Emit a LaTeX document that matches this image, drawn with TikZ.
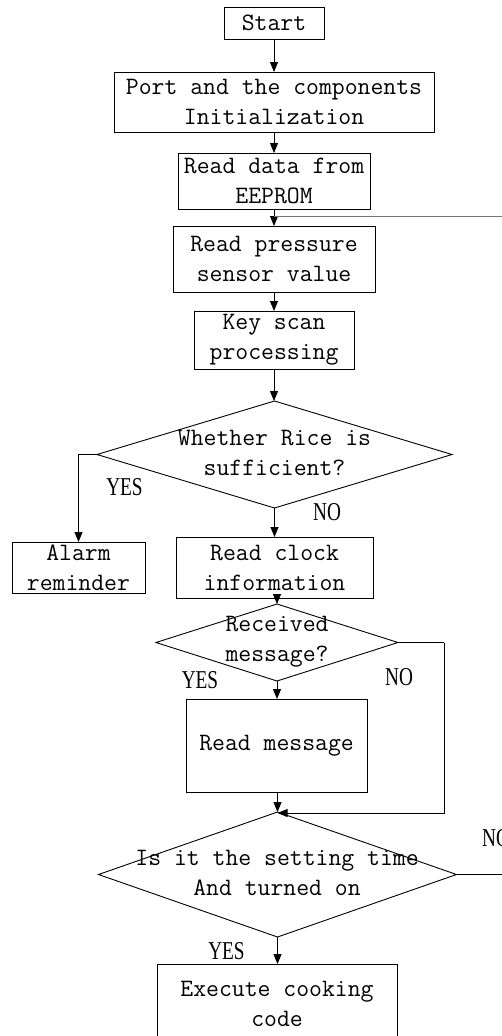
\documentclass[tikz,border=0pt]{standalone}
\usepackage{fontspec}
\newfontfamily\lblfontfam{Liberation Serif}
\usetikzlibrary{arrows.meta,shapes.geometric}
\newcommand\mainf{\ttfamily\fontsize{25}{30}\selectfont}
\newcommand\lblf{\lblfontfam\fontsize{25.7}{30}\selectfont}
\newcommand\lbltext[1]{\scalebox{0.75}[1]{#1}}
\begin{document}
\begin{tikzpicture}[x=1pt,y=-1pt,
  box/.style={draw, line width=0.9pt, rectangle, inner sep=0pt, outer sep=0pt, align=center, font=\mainf},
  dia/.style={draw, diamond, line width=0.9pt, inner sep=0pt, outer sep=0pt},
  txt/.style={inner sep=0pt, align=center, font=\mainf},
  lbl/.style={inner sep=0pt, font=\lblf},
  ln/.style={line width=0.9pt},
  arr/.style={line width=0.9pt, -{Triangle[length=10pt,width=8pt]}},
  loopln/.style={line width=1pt, draw=black!55}]
\useasboundingbox (0,0) rectangle (502,1036);

% boxes
\node[box, minimum width=100, minimum height=32] (start) at (274,23) {Start};
\node[box, minimum width=320, minimum height=60] (init) at (274,102) {Port and the components\\Initialization};
\node[box, minimum width=192, minimum height=56] (eeprom) at (274,181) {Read data from\\EEPROM};
\node[box, minimum width=202, minimum height=66] (press) at (274,259) {Read pressure\\sensor value};
\node[box, minimum width=160, minimum height=58] (key) at (274,340) {Key scan\\processing};

\node[dia, minimum width=355, minimum height=107] (d1) at (274.5,454.5) {};
\node[txt] (t1) at (274.5,453) {Whether Rice is\\sufficient?};

\node[box, minimum width=133, minimum height=51] (alarm) at (78.5,567.5) {Alarm\\reminder};
\node[box, minimum width=197, minimum height=61] (clock) at (274.5,567.5) {Read clock\\information};

\node[dia, minimum width=242, minimum height=77] (d2) at (277,642.5) {};
\node[txt] (t2) at (277,642) {Received\\message?};

\node[box, minimum width=181, minimum height=93] (msg) at (276.5,745.5) {Read message};

\node[dia, minimum width=358, minimum height=125] (d3) at (277.5,874.5) {};
\node[txt] (t3) at (277,873) {Is it the setting time\\And turned on};

\node[box, minimum width=240, minimum height=80] (exec) at (277,1004) {Execute cooking\\code};

% labels
\node[lbl] (y1) at (124.5,487) {\lbltext{YES}};
\node[lbl] (n1) at (327,512) {\lbltext{NO}};
\node[lbl] (y2) at (200,680) {\lbltext{YES}};
\node[lbl] (n2) at (399,677) {\lbltext{NO}};
\node[lbl] (n3) at (496,838) {\lbltext{NO}};
\node[lbl] (y3) at (226.5,951) {\lbltext{YES}};

% coordinates for the loops leaving the frame
\coordinate (loopR) at (510,216);
\coordinate (outR) at (510,874.5);
\coordinate (d2turn) at (444,642.5);

% connectors
\draw[arr] (start) -- (init);
\draw[arr] (init) -- (eeprom);
\draw[arr] (eeprom) -- (press);
\draw[loopln] (press.north |- loopR) -- (loopR);
\draw[arr] (press) -- (key);
\draw[arr] (key.south) -- (key.south |- d1.north);
\draw[arr] (d1.west) -| (alarm.north);
\draw[arr] (d1.south) -- (d1.south |- clock.north);
\draw[arr] (d2.north |- clock.south) -- (d2.north);
\draw[arr] (d2.south) -- (d2.south |- msg.north);
\draw[ln] (d2.east) -- (d2turn);
\draw[arr] (d2turn) |- ([yshift=-1pt]d3.north);
\draw[arr] (d3.north |- msg.south) -- (d3.north);
\draw[ln] (d3.east) -- (outR);
\draw[arr] (d3.south) -- (d3.south |- exec.north);
\end{tikzpicture}
\end{document}
